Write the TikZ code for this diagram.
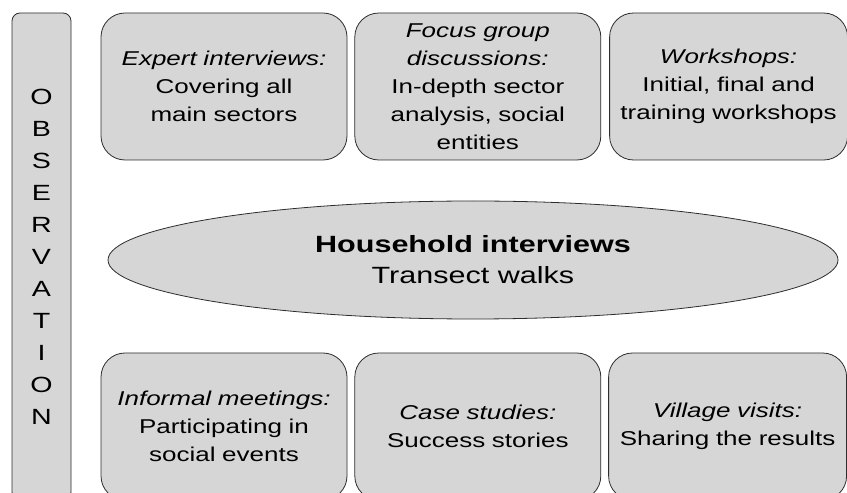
\documentclass[tikz,border=0pt]{standalone}
\usepackage{fontspec}
\setmainfont{Liberation Sans}[FakeStretch=1.3]
\usepackage{xcolor}
\usepackage{tikz}
\usetikzlibrary{shapes.geometric,positioning}
\definecolor{boxgray}{RGB}{214,214,214}
\definecolor{edgegray}{RGB}{45,45,45}
\tikzstyle{methodbox} = [rectangle, rounded corners=24pt, minimum width=246pt,
    minimum height=147pt, inner xsep=0pt, text centered, text width=246pt,
    draw=edgegray, fill=boxgray, line width=0.8pt, font=\fontsize{20}{28}\selectfont]
\tikzstyle{edgebox} = [methodbox, minimum width=238pt, text width=238pt]
\tikzstyle{obsbar} = [rectangle, rounded corners=8pt, minimum width=59pt,
    minimum height=487pt, inner xsep=0pt, text centered, text width=59pt,
    draw=edgegray, fill=boxgray, line width=0.8pt, font=\fontsize{22}{32}\selectfont]
\tikzstyle{core} = [ellipse, minimum width=730pt, minimum height=118pt,
    inner sep=0pt, align=center, draw=edgegray, fill=boxgray, line width=0.8pt,
    font=\fontsize{23.5}{31}\selectfont]
\begin{document}
\begin{tikzpicture}[x=1pt, y=1pt, node distance=7pt]
\useasboundingbox (0,0) rectangle (847,493);

% ── Observation bar ────
\node[obsbar] (obs) at (41.5,236.5) {O\\B\\S\\E\\R\\V\\A\\T\\I\\O\\N};

% ── Top row ────
\node[methodbox] (expert) at (224,406.5) {\textit{Expert interviews:}\\Covering all\\main sectors};
\node[methodbox, right=of expert] (focus) {\textit{Focus group}\\\textit{discussions:}\\In-depth sector\\analysis, social\\entities};
\node[edgebox, right=8pt of focus] (workshop) {\textit{Workshops:}\\Initial, final and\\training workshops};

% ── Centre ────
\node[core] (household) at (473,233) {\textbf{Household interviews}\\Transect walks};

% ── Bottom row ────
\node[methodbox] (informal) at (224,66.5) {\textit{Informal meetings:}\\Participating in\\social events};
\node[methodbox, right=of informal] (cases) {\textit{Case studies:}\\Success stories};
\node[edgebox, right=of cases] (village) {\textit{Village visits:}\\Sharing the results};

\end{tikzpicture}
\end{document}
